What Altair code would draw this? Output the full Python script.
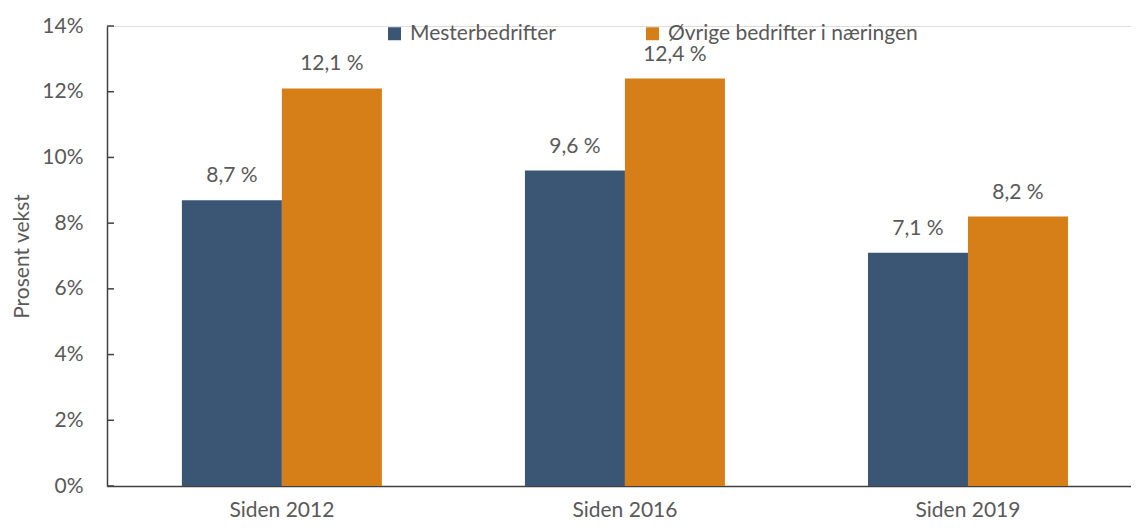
import altair as alt
import pandas as pd

categories = ["Siden 2012", "Siden 2016", "Siden 2019"]
series = ["Mesterbedrifter", "Øvrige bedrifter i næringen"]
mester = [8.7, 9.6, 7.1]
ovrige = [12.1, 12.4, 8.2]
colors = ["#3A5674", "#D67E18"]
tick_values = [0, 0.02, 0.04, 0.06, 0.08, 0.10, 0.12, 0.14]

rows = []
for i, c in enumerate(categories):
    rows.append({"cat": c, "serie": series[0], "val": mester[i]})
    rows.append({"cat": c, "serie": series[1], "val": ovrige[i]})
df = pd.DataFrame(rows)
df["lbl"] = df["val"].map(lambda v: f"{v:.1f}".replace(".", ",") + " %")
df["frac"] = df["val"] / 100
ticks_df = pd.DataFrame({"t": tick_values})

FONT = "Lato"
FS = 21
TXT = "#595959"
AX = "#404040"

x = alt.X("cat:N", sort=categories, title=None,
          scale=alt.Scale(paddingInner=0.417, paddingOuter=0.201, align=0.543),
          axis=alt.Axis(labelAngle=0, ticks=False, labelPadding=13, labelFontSize=FS,
                        labelColor=TXT, labelFont=FONT, domainColor=AX, domainWidth=1.5))
xo = alt.XOffset("serie:N", sort=series, scale=alt.Scale(paddingInner=0, paddingOuter=0))
yscale = alt.Scale(domain=[0, 0.14], nice=False)
y = alt.Y("frac:Q", title="Prosent vekst", scale=yscale,
          axis=alt.Axis(format=".0%", values=tick_values,
                        grid=False, ticks=False, domainColor=AX,
                        domainWidth=1.5, labelPadding=24, labelFontSize=FS,
                        labelColor=TXT, labelFont=FONT, titleFont=FONT, titleFontSize=FS,
                        titleColor=TXT, titleFontWeight="normal", titlePadding=9))

color = alt.Color("serie:N", sort=series, title=None,
                  scale=alt.Scale(domain=series, range=colors),
                  legend=alt.Legend(orient="none", legendX=277, legendY=-3, direction="horizontal",
                                    symbolType="square", symbolSize=169, symbolStrokeWidth=0,
                                    labelFontSize=FS, labelFont=FONT, labelColor=TXT,
                                    labelOffset=5, columnPadding=86, labelLimit=400))

bars = alt.Chart(df).mark_bar().encode(x=x, xOffset=xo, y=y, color=color)
labels = alt.Chart(df).mark_text(baseline="bottom", dy=-14, fontSize=FS, font=FONT, color=TXT).encode(
    x=x, xOffset=xo, y=y, text="lbl:N")
tickmarks = alt.Chart(ticks_df).mark_rule(color=AX, strokeWidth=1.5).encode(
    x=alt.value(0), x2=alt.value(7), y=alt.Y("t:Q", scale=yscale))

chart = (bars + labels + tickmarks).properties(
    width=1024, height=460,
    autosize=alt.AutoSizeParams(type="none"),
    padding={"left": 99, "top": 18, "right": 0, "bottom": 35},
).configure_view(stroke=None).configure(background="white")

chart.save("out.html", embed_options={"renderer": "svg", "actions": False})
